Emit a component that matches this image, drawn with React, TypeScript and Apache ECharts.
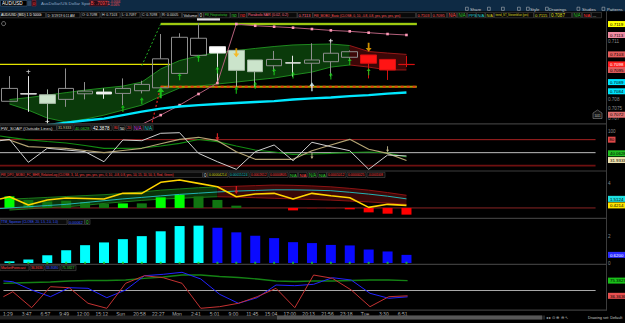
import React, { useEffect, useRef } from "react";
import * as echarts from "echarts";

const FONT = "'Liberation Sans', Arial, Helvetica, sans-serif";

// ---------------- time axis ----------------
const timeLabels = ["1:29", "3:47", "6:57", "9:49", "12:00", "15:12", "Sun", "20:58", "22:27", "Mon", "2:41", "5:01", "9:00", "11:45", "15:04", "17:00", "20:13", "21:56", "23:18", "Tue", "3:30", "6:51"];
const slotCount = 32;

// ---------------- price panel ----------------
const opens = [0.7079, 0.70828, 0.70824, 0.708, 0.70829, 0.70838, 0.70831, 0.70845, 0.7086, 0.70935, 0.71029, 0.71074, 0.71055, 0.71005, 0.70975, 0.70989, 0.70988, 0.70996, 0.71019, 0.71031, 0.71008, 0.70982];
const closes = [0.70857, 0.70829, 0.70779, 0.70857, 0.70843, 0.70828, 0.70857, 0.70878, 0.71011, 0.71123, 0.71118, 0.71041, 0.70951, 0.70944, 0.71008, 0.7099, 0.71005, 0.7104, 0.71048, 0.70988, 0.70953, 0.70981];
const lows = [0.7079, 0.70735, 0.70675, 0.70761, 0.708, 0.70803, 0.7077, 0.70831, 0.7086, 0.70935, 0.71029, 0.70883, 0.70866, 0.70866, 0.70944, 0.70918, 0.70866, 0.70918, 0.71, 0.70909, 0.70901, 0.70968];
const highs = [0.70921, 0.70921, 0.70852, 0.70961, 0.7089, 0.70857, 0.70909, 0.70897, 0.7114, 0.71144, 0.71196, 0.71074, 0.71055, 0.71005, 0.71052, 0.71027, 0.71092, 0.71114, 0.71055, 0.71031, 0.71008, 0.71026];
const candleKind = ["h", "w", "g", "h", "h", "w", "h", "h", "h", "h", "h", "w", "g", "g", "h", "w", "h", "h", "h", "r", "r", "r"];

const mobUpper = [0.70799, 0.70809, 0.70822, 0.70835, 0.70848, 0.70859, 0.70869, 0.7089, 0.70958, 0.71002, 0.71026, 0.71044, 0.71054, 0.71065, 0.71075, 0.71083, 0.71086, 0.71088, 0.7108, 0.71049, 0.71041, 0.71034];
const mobLower = [0.70776, 0.70744, 0.70703, 0.70682, 0.70697, 0.70718, 0.70744, 0.7077, 0.70817, 0.70859, 0.70869, 0.7088, 0.7089, 0.70901, 0.70911, 0.70927, 0.70942, 0.70968, 0.70979, 0.70968, 0.70953, 0.70953];
const mobRedFrom = 18;

const sar = [null, null, null, null, null, null, null, 0.7067, 0.70718, 0.7077, 0.70828, 0.70885, 0.71192, 0.71183, 0.71178, 0.71173, 0.71166, 0.71159, 0.71154, 0.71147, 0.7114, 0.71135];
const trendMa = [null, null, 0.70665, 0.70679, 0.7069, 0.707, 0.70718, 0.70736, 0.70752, 0.70763, 0.7077, 0.70776, 0.70781, 0.70786, 0.70791, 0.70799, 0.70805, 0.7081, 0.70817, 0.70822, 0.7083, 0.70836];

const pivotLeft = 0.70982;
const pivotHigh = 0.71192;
const pivotSupport = 0.70866;

const greenArrowIdx = [6, 7, 9, 10, 11, 12, 13, 14, 15, 17, 18, 19];
const greenArrowPrice = [0.70753, 0.70793, 0.70918, 0.71014, 0.70953, 0.70848, 0.70874, 0.70944, 0.70927, 0.70921, 0.70996, 0.70944];
const bigArrow = [8, 0.70834];
const yellowArrows = [[12, 0.71043], [19, 0.71071]];
const whiteMarks = [[1, 0.70944], [17, 0.71105], [2, 0.70684]];
const cyanArrow = [16, 0.70866];
const countMarks = [[19, 0.70906, "3"], [20, 0.70906, "3"], [21, 0.70961, "5"]];

// ---------------- FW_SOAP ----------------
const soapWhite = [80.8, 27.8, 60.1, 56.2, 52.3, 29.1, 79.2, 77.6, 94.7, 96.1, 48.5, 29.1, 11.6, 52.2, 67.7, 31.5, 73.9, 63.8, 54.5, 11.6, 44.6, 42.39];
const soapTan = [79.2, 63.8, 61.9, 60.1, 55.0, 50.0, 55.0, 60.1, 70.5, 80.8, 85.5, 77.6, 52.2, 34.7, 34.7, 34.7, 54.5, 67.7, 80.8, 57.8, 48.5, 31.93];
const soapGreen = [85.5, 79.7, 75.8, 72.3, 66.5, 60.0, 60.0, 60.8, 65.4, 71.6, 80.4, 75.3, 65.4, 56.2, 51.5, 46.2, 46.9, 48.5, 50.4, 51.5, 49.2, 40.06];
const soapLead = { white: 77.6, tan: 79.2, green: 88.5 };
const soapLevels = [80, 50, 20];

// ---------------- FW_DPO_MOBO ----------------
const dpoHist = [1.92, 1.33, 1.09, 1.21, 1.0, 0.66, 0.76, 0.76, 1.76, 2.2, 1.92, 1.33, 0.38, 0.02, 0, -0.4, -0.07, -0.07, -0.23, -0.73, -0.95, -1.11];
const dpoStrong = [1, 0, 0, 0, 0, 0, 1, 0, 1, 1, 0, 0, 0, 0, 0, 1, 0, 0, 1, 1, 1, 1];
const dpoYellow = [1.86, 0.48, 1.31, 1.64, 1.56, 1.48, 2.42, 2.42, 4.25, 4.63, 4.08, 3.52, 1.86, 2.31, 2.42, 1.48, 2.42, 2.02, 1.69, 0.1, 0.6, 0.42];
const dpoCyan = [0.0, 0.2, 0.4, 0.6, 0.9, 1.2, 1.5, 1.75, 2.0, 2.25, 2.45, 2.65, 2.8, 2.9, 3.0, 3.0, 2.95, 2.86, 2.6, 2.3, 1.95, 1.51];
const dpoLead = { yellow: 1.48, cyan: -0.1 };
const dpoGreenUpper = [1.46, 1.6, 1.75, 1.9, 2.05, 2.2, 2.4, 2.65, 2.95, 3.15, 3.35, 3.5];
const dpoGreenLower = [-0.35, -0.15, 0.05, 0.2, 0.45, 0.75, 1.0, 1.25, 1.47, 1.6, 1.75, 1.86];
const dpoRedFrom = 11;
const dpoRedUpper = [3.5, 3.6, 3.7, 3.8, 3.75, 3.65, 3.5, 3.25, 2.95, 2.55, 2.1];
const dpoRedLower = [1.86, 1.8, 1.7, 1.6, 1.5, 1.4, 1.3, 1.15, 1.0, 0.8, 0.6];
const dpoArrow = [12, 2.97];

// ---------------- TTM_Squeeze ----------------
const ttm = [0.13, 0.26, 0.59, 0.98, 1.36, 1.57, 1.82, 2.05, 2.42, 2.82, 2.85, 2.69, 2.34, 2.08, 1.9, 1.59, 1.52, 1.38, 1.34, 1.03, 0.88, 0.62];

// ---------------- MarketForecast ----------------
const mfRed = [46.9, 5.9, 59.7, 57.2, 17.2, 4.4, 68.5, 87.9, 82.8, 68.5, 4.4, 8.5, 17.2, 34.1, 55.6, 5.9, 89.7, 81.3, 51.3, 8.5, 34.1, 36.36];
const mfBlue = [72.6, 51.3, 34.1, 57.2, 55.6, 31.5, 51.3, 87.9, 91.5, 96.7, 79.5, 40.3, 17.2, 31.5, 64.1, 62.3, 65.9, 82.8, 76.9, 42.8, 30.0, 33.8];
const mfGreen = [69.2, 70.5, 71.8, 74.4, 75.6, 75.6, 76.9, 81.3, 84.6, 89.7, 89.7, 85.9, 83.3, 79.5, 74.4, 73.1, 74.4, 74.4, 75.6, 76.9, 76.9, 75.38];
const mfLead = { red: 34.1, blue: 74.4, green: 68.5 };
const mfMid = 50;

// ---------------- header texts ----------------
const headerBoxes: [number, number, string, string][] = [
  [0, 45.5, "AUD/USD (BID) 1 D 5000t", "#ffffff"],
  [46.5, 33.5, "D: 3/19/19 6:11 AM", "#dddddd"],
  [81, 19, "O: 0.7098", "#dddddd"],
  [101, 19, "H: 0.7103", "#dddddd"],
  [121, 19, "L: 0.7097", "#dddddd"],
  [141, 19, "C: 0.7098", "#dddddd"],
  [161, 20.5, "R: 0.0005", "#dddddd"],
  [182.5, 15.5, "Volume", "#dddddd"],
  [198.5, 5, "0", "#dddddd"],
  [204, 26, "FW_Fibopivotsetup", "#33cc33"],
  [230.5, 8, "no", "#33cc33"],
  [239, 7.5, "no", "#ff3333"],
  [247, 50, "ParabolicSAR (0.02, 0.2)", "#ff6b88"],
  [297.5, 15, "0.7113", "#ff6b88"],
  [313, 102.5, "FW_MOBO_Basic (CLOSE, 0, 10, -0.8, 0.8, yes, yes, yes, yes)", "#ff5555"],
  [416.5, 14.5, "0.7103", "#ff5555"],
  [431.5, 15, "0.7095", "#ff5555"],
  [447.5, 9, "N/A", "#ff5555"],
  [457.5, 9, "N/A", "#33cc33"],
  [467.5, 8.5, "PPS", "#22cccc"],
  [476.5, 8.5, "N/A", "#22cccc"],
  [485.5, 8, "N/A", "#cccc22"],
  [494.5, 39, "trend_ST_Stevenblue (yes)", "#dddd22"],
  [534, 15.5, "0.7115", "#dddd22"],
  [550, 21.5, "0.7087", "#dddd22"],
  [572.5, 9, "N/A", "#33cc33"],
  [582.5, 8.5, "N/A", "#ff3333"],
  [591.5, 10, "...", "#dddddd"],
];
const soapBoxes: [number, number, string, string][] = [
  [0, 56.5, "FW_SOAP (Outside Lines)", "#dddddd"],
  [57, 16, "31.9333", "#d8c89a"],
  [74, 17, "40.0628", "#33cc33"],
  [92, 20, "42.3878", "#ffffff"],
  [113, 5.5, "80", "#ff4444"],
  [119, 6, "50", "#ffffff"],
  [126, 5.5, "20", "#ff4444"],
  [133, 10, "N/A", "#dd44dd"],
  [143.5, 9.5, "N/A", "#22cccc"],
];
const dpoBoxes: [number, number, string, string][] = [
  [0, 202.5, "FW_DPO_MOBO_FC_MHR_RelativeLog (CLOSE, 3, 14, yes, yes, yes, yes, 0, 10, -0.8, 0.8, yes, 10, 15, 10, 50, 3, Red, Green)", "#ff4444"],
  [203, 4.5, "0", "#dddddd"],
  [208, 20, "0.00004214", "#dddd22"],
  [229, 20, "0.00015124", "#22cccc"],
  [250, 18, "0.0002612", "#ff4444"],
  [269, 19, "0.0000805", "#ff4444"],
  [289, 8.5, "N/A", "#33cc33"],
  [298.5, 8.5, "N/A", "#ff4444"],
  [308, 9, "N/A", "#33cc33"],
  [318, 8.5, "N/A", "#33cc33"],
  [327, 19, "0.0001012", "#ff4444"],
  [347, 19, "0.0000025", "#ff4444"],
  [367, 18, "-0.0001008", "#ff4444"],
];
const ttmBoxes: [number, number, string, string][] = [
  [0, 67, "TTM_Squeeze (CLOSE, 20, 1.5, 2.0, 1.0)", "#3a5cff"],
  [68, 16.5, "0.00062", "#3a5cff"],
  [85, 5, "0", "#33cc33"],
];
const mfBoxes: [number, number, string, string][] = [
  [0, 29, "MarketForecast", "#ff4444"],
  [30, 14, "36.3636", "#ff4444"],
  [45, 15, "33.8080", "#3a5cff"],
  [61, 15, "75.3827", "#33cc33"],
];

const ARROW_UP = "path://M5,0L10,5L6.5,5L6.5,12L3.5,12L3.5,5L0,5Z";
const ARROW_DOWN = "path://M3.5,0L6.5,0L6.5,7L10,7L5,12L0,7L3.5,7Z";
const PLUS = "path://M4,0L6,0L6,4L10,4L10,6L6,6L6,10L4,10L4,6L0,6L0,4L4,4Z";

function infoBox(x: number, y: number, w: number, h: number, text: string, color: string) {
  const fs = Math.max(2.4, Math.min(4.6, (w - 1.6) / (text.length * 0.55)));
  return [
    { type: "rect", z: 50, shape: { x, y, width: w, height: h }, style: { fill: "#0a0a0a", stroke: "#4a4a4a", lineWidth: 0.6 } },
    { type: "text", z: 51, x: x + 0.9, y: y + h / 2 + 0.2, style: { text, fill: color, fontSize: fs, fontFamily: FONT, align: "left", verticalAlign: "middle" } },
  ];
}

function txt(x: number, y: number, text: string, fill: string, fontSize: number, align = "left") {
  return { type: "text", z: 52, x, y, style: { text, fill, fontSize, fontFamily: FONT, align, verticalAlign: "middle" } };
}

type Box = { value: number; text: string; bg: string; fg: string };

const priceBoxes: Box[] = [
  { value: pivotHigh, text: "0.7119", bg: "#ffff00", fg: "#000" },
  { value: 0.71135, text: "0.7113", bg: "#f08ca4", fg: "#000" },
  { value: 0.71034, text: "0.7103", bg: "#e45c5c", fg: "#000" },
  { value: 0.70982, text: "0.7098", bg: "#ff1e1e", fg: "#fff" },
  { value: 0.70953, text: "0.7095", bg: "#e45c5c", fg: "#000" },
  { value: 0.7089, text: "0.7089", bg: "#00e5ff", fg: "#000" },
  { value: 0.70842, text: "0.7084", bg: "#00e5ff", fg: "#000" },
  { value: 0.7072, text: "0.7072", bg: "#e07070", fg: "#000" },
];
const soapAxisBoxes: Box[] = [
  { value: 80, text: "80", bg: "#e04848", fg: "#000" },
  { value: 48.5, text: "40.0628", bg: "#22c022", fg: "#000" },
  { value: 33, text: "31.9333", bg: "#efe3b0", fg: "#000" },
];
const dpoAxisBoxes: Box[] = [
  { value: dpoCyan[dpoCyan.length - 1], text: "1.5124", bg: "#1ee0e0", fg: "#000" },
  { value: dpoYellow[dpoYellow.length - 1], text: "0.4214", bg: "#ffe400", fg: "#000" },
];
const ttmAxisBoxes: Box[] = [{ value: ttm[ttm.length - 1], text: ttm[ttm.length - 1].toFixed(4), bg: "#2a2aff", fg: "#fff" }];
const mfAxisBoxes: Box[] = [
  { value: mfGreen[mfGreen.length - 1], text: "75.3827", bg: "#19c019", fg: "#000" },
  { value: mfRed[mfRed.length - 1], text: "36.3636", bg: "#e85050", fg: "#000" },
];
const axisBoxSets: Box[][] = [priceBoxes, soapAxisBoxes, dpoAxisBoxes, ttmAxisBoxes, mfAxisBoxes];

function staticGraphics() {
  const g: any[] = [];
  g.push({ type: "rect", z: 49, shape: { x: 0, y: 0, width: 625, height: 11.3 }, style: { fill: "#0e2a44" } });
  g.push({ type: "rect", z: 50, shape: { x: 0.5, y: 0.5, width: 26.5, height: 5.5 }, style: { fill: "#000", stroke: "#4b6a88", lineWidth: 0.5 } });
  g.push(txt(2, 3.3, "AUD/USD", "#ffffff", 4.6));
  g.push({ type: "rect", z: 50, shape: { x: 27.5, y: 0.5, width: 3.5, height: 5.5 }, style: { fill: "#2c4763" } });
  g.push({ type: "rect", z: 50, shape: { x: 32, y: 0.5, width: 4, height: 5.5 }, style: { fill: "#3a0d14", stroke: "#a02030", lineWidth: 0.5 } });
  g.push(txt(34, 3.3, "0", "#ff4040", 4.4, "center"));
  g.push(txt(41, 3.3, "AusDollar/US Dollar Spot", "#8ea8c3", 4.4));
  g.push({ type: "rect", z: 50, shape: { x: 89.3, y: 0.5, width: 18.5, height: 5.5 }, style: { fill: "#2a0d18", stroke: "#6a2030", lineWidth: 0.5 } });
  g.push(txt(90.5, 3.3, "B: .70971", "#ff4d4d", 4.5));
  g.push(txt(110, 1.8, "-0.0004", "#ff5050", 3));
  g.push(txt(110, 5, "-0.06%", "#ff5050", 3));
  const rightTools: [number, string][] = [[470, "Share"], [530, "Style"], [549, "Drawings"], [582, "Studies"], [607, "Patterns"]];
  rightTools.forEach(([x, t]) => g.push(txt(x, 9, t, "#d0d0d0", 4.2)));
  [465.5, 487.5, 501.5, 517.5, 526.5, 545.5, 577, 602].forEach((x) =>
    g.push({ type: "rect", z: 50, shape: { x, y: 7.2, width: 2.8, height: 3.2 }, style: { fill: "none", stroke: "#c8c8c8", lineWidth: 0.5 } })
  );

  headerBoxes.forEach(([x, w, t, c]) => g.push(...infoBox(x, 12.4, w, 5.4, t, c)));
  soapBoxes.forEach(([x, w, t, c]) => g.push(...infoBox(x, 125.2, w, 5.2, t, c)));
  dpoBoxes.forEach(([x, w, t, c]) => g.push(...infoBox(x, 172.3, w, 5.2, t, c)));
  ttmBoxes.forEach(([x, w, t, c]) => g.push(...infoBox(x, 219.3, w, 5.2, t, c)));
  mfBoxes.forEach(([x, w, t, c]) => g.push(...infoBox(x, 265.4, w, 5.2, t, c)));

  [123.3, 170.4, 217.7, 263.7, 309.6].forEach((y) =>
    g.push({ type: "rect", z: 48, shape: { x: 0, y, width: 607, height: 1.2 }, style: { fill: "#3c3c3c" } })
  );
  g.push({ type: "rect", z: 48, shape: { x: 606, y: 11.3, width: 1, height: 299 }, style: { fill: "#3c3c3c" } });

  g.push({ type: "circle", z: 50, shape: { cx: 3.6, cy: 23.6, r: 2 }, style: { fill: "none", stroke: "#bdbdbd", lineWidth: 0.6 } });
  g.push({ type: "rect", z: 50, shape: { x: 197, y: 18.3, width: 23, height: 2.2 }, style: { fill: "#e6e6e6" } });
  g.push({
    type: "polygon",
    z: 50,
    shape: { points: [[593, 118.5], [593, 113], [597.5, 110], [602, 113], [602, 118.5]] },
    style: { fill: "#141414", stroke: "#8a8a8a", lineWidth: 0.6 },
  });
  g.push(txt(597.5, 115.8, "1011", "#cfcfcf", 2.8, "center"));

  g.push({ type: "rect", z: 48, shape: { x: 0, y: 315.6, width: 545, height: 4 }, style: { fill: "#232323" } });
  g.push({ type: "rect", z: 49, shape: { x: 277, y: 315.6, width: 265, height: 4 }, style: { fill: "#575757" } });
  g.push(txt(546, 317.8, "◂ ▸ ⊙ ⊕ ⊖ ↖", "#bdbdbd", 4.2));
  g.push(txt(588, 317.8, "Drawing set: Default", "#c8c8c8", 3.8));
  return g;
}

function buildOption() {
  const cats = Array.from({ length: slotCount }, (_, i) => (i < timeLabels.length ? timeLabels[i] : ""));
  const withLead = (lead: number, arr: number[]) => [[-0.5, lead], ...arr.map((v, i) => [i, v])];
  const span = (from: number, arr: number[]) =>
    Array.from({ length: opens.length }, (_, i) => (i >= from && i < from + arr.length ? arr[i - from] : null));
  const lineEnd = slotCount - 1;

  const grids = [
    { left: 0, top: 20, width: 605, height: 103 },
    { left: 0, top: 131, width: 605, height: 39 },
    { left: 0, top: 179, width: 605, height: 38 },
    { left: 0, top: 225, width: 605, height: 38 },
    { left: 0, top: 271, width: 605, height: 39 },
  ];

  const xAxis: any[] = [];
  grids.forEach((_, gi) => {
    xAxis.push({
      type: "category",
      gridIndex: gi,
      data: cats,
      boundaryGap: true,
      axisLine: { show: false },
      axisTick: { show: false },
      splitLine: { show: false },
      axisLabel:
        gi === 4
          ? { show: true, interval: 0, fontSize: 5, color: "#b4b4b4", margin: 1.5, fontFamily: FONT, padding: [0, 10, 0, 0] }
          : { show: false },
    });
    xAxis.push({ type: "value", gridIndex: gi, min: -0.5, max: slotCount - 0.5, show: false });
  });

  const yLabel = { fontSize: 4.6, color: "#8c8c8c", margin: 3, fontFamily: FONT };
  const yBase = (gi: number, extra: any) => ({
    type: "value",
    gridIndex: gi,
    position: "right",
    axisLine: { show: false },
    axisTick: { show: false },
    splitLine: { show: false },
    ...extra,
  });

  const yAxis = [
    yBase(0, {
      min: 0.70677,
      max: 0.71213,
      splitNumber: 10,
      axisLabel: {
        ...yLabel,
        showMinLabel: false,
        showMaxLabel: false,
        formatter: (v: number) =>
          priceBoxes.some((b) => Math.abs(b.value - v) < 0.00019) ? "" : String(+(+v).toFixed(4)),
      },
    }),
    yBase(1, { min: 10, max: 100, axisLabel: { ...yLabel, formatter: (v: number) => (v === 100 ? "100" : "") } }),
    yBase(2, { min: -1.5, max: 4.8, axisLabel: { ...yLabel, formatter: (v: number) => (v === 4 ? "4" : "") } }),
    yBase(3, { min: 0, max: 2.9, axisLabel: { ...yLabel, formatter: (v: number) => (v === 2 || v === 0 ? String(v) : "") } }),
    yBase(4, {
      min: 0,
      max: 100,
      axisLabel: { ...yLabel, inside: true, color: "#e0e0e0", margin: 2, formatter: (v: number) => (v === mfMid ? "50" : "") },
    }),
  ];

  const L = (extra: any) => ({ type: "line", symbol: "none", silent: true, animation: false, ...extra });
  const S = (extra: any) => ({ type: "scatter", silent: true, animation: false, ...extra });

  const kindStyle: Record<string, { fill: string; border: string }> = {
    h: { fill: "rgba(0,0,0,0)", border: "#8e8e8e" },
    w: { fill: "#ffffff", border: "#e6e6e6" },
    g: { fill: "#cbe4cb", border: "#a3b6a3" },
    r: { fill: "#ff1414", border: "#d81010" },
  };
  const candleData = opens.map((o, i) => {
    const s = kindStyle[candleKind[i]];
    return {
      value: [o, closes[i], lows[i], highs[i]],
      itemStyle: { color: s.fill, color0: s.fill, borderColor: s.border, borderColor0: s.border, borderWidth: 1 },
    };
  });

  const gLow = mobLower.map((v, i) => (i <= mobRedFrom ? v : null));
  const gDif = mobUpper.map((v, i) => (i <= mobRedFrom ? v - mobLower[i] : null));
  const rLow = mobLower.map((v, i) => (i >= mobRedFrom ? v : null));
  const rDif = mobUpper.map((v, i) => (i >= mobRedFrom ? v - mobLower[i] : null));

  const dgLow = span(0, dpoGreenLower);
  const dgDif = span(0, dpoGreenUpper.map((v, k) => v - dpoGreenLower[k]));
  const drLow = span(dpoRedFrom, dpoRedLower);
  const drDif = span(dpoRedFrom, dpoRedUpper.map((v, k) => v - dpoRedLower[k]));

  const series: any[] = [
    // ---- price panel ----
    L({ xAxisIndex: 0, yAxisIndex: 0, stack: "mg", stackStrategy: "all", data: gLow, lineStyle: { color: "#1f8a1f", width: 1 }, z: 1 }),
    L({ xAxisIndex: 0, yAxisIndex: 0, stack: "mg", stackStrategy: "all", data: gDif, lineStyle: { color: "#1f8a1f", width: 1 }, areaStyle: { color: "#0a3a0a", opacity: 1 }, z: 1 }),
    L({ xAxisIndex: 0, yAxisIndex: 0, stack: "mr", stackStrategy: "all", data: rLow, lineStyle: { color: "#951818", width: 1 }, z: 1 }),
    L({ xAxisIndex: 0, yAxisIndex: 0, stack: "mr", stackStrategy: "all", data: rDif, lineStyle: { color: "#951818", width: 1 }, areaStyle: { color: "#3c0707", opacity: 1 }, z: 1 }),
    L({ xAxisIndex: 1, yAxisIndex: 0, data: [[-0.5, pivotLeft], [8.5, pivotLeft]], lineStyle: { color: "#e4e400", width: 1.2 }, z: 2 }),
    L({ xAxisIndex: 1, yAxisIndex: 0, data: [[8, pivotHigh], [21.55, pivotHigh]], lineStyle: { color: "#4da020", width: 2.4 }, z: 2 }),
    L({ xAxisIndex: 1, yAxisIndex: 0, data: [[8, pivotHigh], [21.55, pivotHigh]], lineStyle: { color: "#f2f000", width: 1.1 }, z: 2 }),
    L({ xAxisIndex: 1, yAxisIndex: 0, data: [[7, 0.70975], [8, pivotHigh]], lineStyle: { color: "#22aa22", width: 1, type: [2, 2] }, z: 2 }),
    L({ xAxisIndex: 1, yAxisIndex: 0, data: [[8, pivotSupport], [21.55, pivotSupport]], lineStyle: { color: "#a8a000", width: 2 }, z: 2 }),
    L({ xAxisIndex: 1, yAxisIndex: 0, data: [[8, pivotSupport], [21.55, pivotSupport]], lineStyle: { color: "#e23a12", width: 2, type: [3, 3] }, z: 2 }),
    L({ xAxisIndex: 1, yAxisIndex: 0, data: [[7.5, 0.7066], [8, pivotSupport]], lineStyle: { color: "#e02020", width: 1.2, type: [2, 2] }, z: 2 }),
    {
      type: "candlestick",
      xAxisIndex: 0,
      yAxisIndex: 0,
      barWidth: 16,
      data: candleData,
      silent: true,
      animation: false,
      z: 3,
    },
    {
      type: "line",
      xAxisIndex: 0,
      yAxisIndex: 0,
      data: sar,
      symbol: "rect",
      symbolSize: 2.6,
      showSymbol: true,
      itemStyle: { color: "#ff9ab8" },
      lineStyle: { color: "#b4607c", width: 1 },
      silent: true,
      animation: false,
      z: 4,
    },
    L({ xAxisIndex: 0, yAxisIndex: 0, data: trendMa, lineStyle: { color: "#00e8ff", width: 2.4 }, z: 6 }),
    S({ xAxisIndex: 0, yAxisIndex: 0, data: greenArrowIdx.map((x, k) => [x, greenArrowPrice[k]]), symbol: ARROW_UP, symbolSize: [4, 7], itemStyle: { color: "#18d418" }, z: 5 }),
    S({ xAxisIndex: 0, yAxisIndex: 0, data: [bigArrow], symbol: ARROW_UP, symbolSize: [7, 11], itemStyle: { color: "#1ee01e" }, z: 5 }),
    S({ xAxisIndex: 0, yAxisIndex: 0, data: yellowArrows, symbol: ARROW_DOWN, symbolSize: [6, 9], itemStyle: { color: "#ffb000" }, z: 5 }),
    S({ xAxisIndex: 0, yAxisIndex: 0, data: whiteMarks, symbol: PLUS, symbolSize: 4, itemStyle: { color: "#ffffff" }, z: 5 }),
    S({ xAxisIndex: 0, yAxisIndex: 0, data: [cyanArrow], symbol: ARROW_UP, symbolSize: [5, 9], itemStyle: { color: "#dffcff" }, z: 5 }),
    S({
      xAxisIndex: 0,
      yAxisIndex: 0,
      data: countMarks.map((c) => ({ value: [c[0], c[1]], name: c[2] })),
      symbolSize: 1,
      itemStyle: { opacity: 0 },
      label: { show: true, formatter: "{b}", position: "inside", fontSize: 4.2, color: "#9a9a9a", fontFamily: FONT },
      z: 5,
    }),

    // ---- SOAP ----
    ...soapLevels.map((lv, k) =>
      L({
        xAxisIndex: 3,
        yAxisIndex: 1,
        data: [[-0.5, lv], [lineEnd, lv]],
        lineStyle: { color: ["#a82222", "#bdbdbd", "#6e1010"][k], width: [1, 1, 1.6][k] },
        z: 1,
      })
    ),
    L({ xAxisIndex: 3, yAxisIndex: 1, data: withLead(soapLead.green, soapGreen), lineStyle: { color: "#128c12", width: 1.2 }, z: 2 }),
    L({ xAxisIndex: 3, yAxisIndex: 1, data: withLead(soapLead.tan, soapTan), lineStyle: { color: "#b4a474", width: 1.2 }, z: 3 }),
    L({ xAxisIndex: 3, yAxisIndex: 1, data: withLead(soapLead.white, soapWhite), lineStyle: { color: "#d0d0d0", width: 1 }, z: 4 }),
    S({ xAxisIndex: 2, yAxisIndex: 1, data: [[11, 86.8]], symbol: ARROW_DOWN, symbolSize: [4, 7], itemStyle: { color: "#ff2a2a" }, z: 5 }),
    S({ xAxisIndex: 2, yAxisIndex: 1, data: [[16, 42.3], [20, 57.8]], symbol: ARROW_DOWN, symbolSize: [3, 6], itemStyle: { color: "#f0e6b0" }, z: 5 }),

    // ---- DPO ----
    L({ xAxisIndex: 4, yAxisIndex: 2, stack: "dg", stackStrategy: "all", data: dgLow, lineStyle: { color: "#1a7a1a", width: 1 }, z: 1 }),
    L({ xAxisIndex: 4, yAxisIndex: 2, stack: "dg", stackStrategy: "all", data: dgDif, lineStyle: { color: "#1a7a1a", width: 1 }, areaStyle: { color: "#0a330a", opacity: 1 }, z: 1 }),
    L({ xAxisIndex: 4, yAxisIndex: 2, stack: "dr", stackStrategy: "all", data: drLow, lineStyle: { color: "#8b1414", width: 1 }, z: 1 }),
    L({ xAxisIndex: 4, yAxisIndex: 2, stack: "dr", stackStrategy: "all", data: drDif, lineStyle: { color: "#8b1414", width: 1 }, areaStyle: { color: "#3a0808", opacity: 1 }, z: 1 }),
    L({ xAxisIndex: 5, yAxisIndex: 2, data: [[-0.5, 0], [lineEnd, 0]], lineStyle: { color: "#8a2424", width: 1 }, z: 2 }),
    {
      type: "bar",
      xAxisIndex: 4,
      yAxisIndex: 2,
      barWidth: 10,
      silent: true,
      animation: false,
      z: 3,
      data: dpoHist.map((v, i) => ({
        value: v,
        itemStyle: { color: v >= 0 ? (dpoStrong[i] ? "#00ff00" : "#117511") : dpoStrong[i] ? "#ff0000" : "#8a0000" },
      })),
    },
    L({ xAxisIndex: 5, yAxisIndex: 2, data: withLead(dpoLead.cyan, dpoCyan), lineStyle: { color: "#22b4b4", width: 1 }, z: 4 }),
    L({ xAxisIndex: 5, yAxisIndex: 2, data: withLead(dpoLead.yellow, dpoYellow), lineStyle: { color: "#ffd400", width: 1.6 }, z: 5 }),
    S({ xAxisIndex: 4, yAxisIndex: 2, data: [dpoArrow], symbol: ARROW_DOWN, symbolSize: [4, 8], itemStyle: { color: "#ff2020" }, z: 6 }),

    // ---- TTM ----
    {
      type: "bar",
      xAxisIndex: 6,
      yAxisIndex: 3,
      barWidth: 10,
      silent: true,
      animation: false,
      z: 2,
      data: ttm.map((v, i) => ({ value: v, itemStyle: { color: i === 0 || v >= ttm[i - 1] ? "#00ffff" : "#0a0aff" } })),
    },
    S({ xAxisIndex: 6, yAxisIndex: 3, data: ttm.map((_, i) => [i, 0]), symbol: "rect", symbolSize: [2, 2.4], itemStyle: { color: "#1ad21a" }, z: 3 }),

    // ---- MarketForecast ----
    L({ xAxisIndex: 9, yAxisIndex: 4, data: [[-0.5, mfMid], [lineEnd, mfMid]], lineStyle: { color: "#a8a8a8", width: 1.2 }, z: 1 }),
    L({ xAxisIndex: 9, yAxisIndex: 4, data: withLead(mfLead.green, mfGreen), lineStyle: { color: "#148214", width: 1.3 }, z: 2 }),
    L({ xAxisIndex: 9, yAxisIndex: 4, data: withLead(mfLead.blue, mfBlue), lineStyle: { color: "#2323ff", width: 1 }, z: 3 }),
    L({ xAxisIndex: 9, yAxisIndex: 4, data: withLead(mfLead.red, mfRed), lineStyle: { color: "#c43232", width: 1 }, z: 4 }),
  ];

  return {
    backgroundColor: "#000",
    animation: false,
    textStyle: { fontFamily: FONT },
    grid: grids,
    xAxis,
    yAxis,
    series,
  };
}

// value boxes on the right axis, placed through the chart's own y scales
function axisBoxGraphics(chart: echarts.ECharts) {
  const out: any[] = [];
  axisBoxSets.forEach((set, gi) => {
    set.forEach((b) => {
      const y = chart.convertToPixel({ yAxisIndex: gi } as any, b.value) as unknown as number;
      if (typeof y !== "number" || !isFinite(y)) return;
      const w = b.text.length * 2.45 + 2.6;
      out.push({ type: "rect", z: 60, shape: { x: 608, y: y - 3, width: w, height: 6 }, style: { fill: b.bg } });
      out.push({
        type: "text",
        z: 61,
        x: 608 + w / 2,
        y: y + 0.2,
        style: { text: b.text, fill: b.fg, fontSize: 4.4, fontFamily: FONT, align: "center", verticalAlign: "middle" },
      });
    });
  });
  return out;
}

export default function App() {
  const ref = useRef<HTMLDivElement>(null);
  useEffect(() => {
    document.body.style.margin = "0";
    const chart = echarts.init(ref.current as HTMLDivElement, undefined, { renderer: "svg" });
    chart.setOption(buildOption() as any);
    chart.setOption({ graphic: { elements: [...staticGraphics(), ...axisBoxGraphics(chart)] } } as any);
    return () => chart.dispose();
  }, []);
  return <div ref={ref} style={{ position: "fixed", left: 0, top: 0, width: 625, height: 323, background: "#000" }} />;
}
